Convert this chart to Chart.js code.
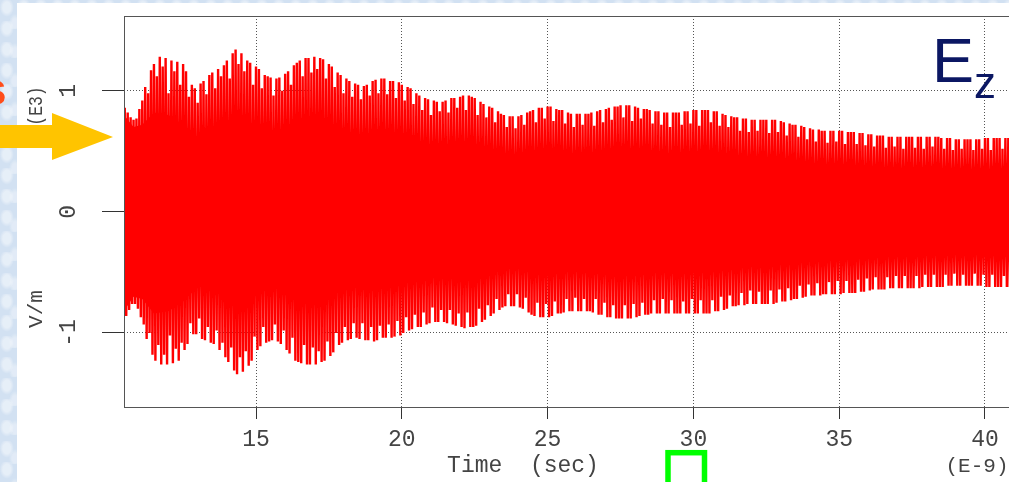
<!DOCTYPE html>
<html>
<head>
<meta charset="utf-8">
<script src="https://cdn.jsdelivr.net/npm/chart.js@4/dist/chart.umd.min.js"></script>
<style>
  html, body { margin: 0; padding: 0; }
  body {
    width: 1009px; height: 482px; overflow: hidden; position: relative;
    background-color: #d2e1f2;
    background-image:
      radial-gradient(ellipse at 40% 35%, rgba(255,255,255,0.45) 0 4px, transparent 7px),
      radial-gradient(ellipse at 65% 80%, rgba(255,255,255,0.35) 0 3px, transparent 6px);
    background-size: 17px 21px, 23px 29px;
  }
  #panel { position: absolute; left: 17px; top: 3px; right: 0; bottom: 0; background: #fff; }
  #wrap { position: absolute; left: 0; top: 0; width: 1040px; height: 482px; }
  #overlay { position: absolute; left: 0; top: 0; }
</style>
</head>
<body>
<div id="panel"></div>
<div id="wrap"><canvas id="chart_ez" width="1040" height="482"></canvas></div>
<svg id="overlay" width="1009" height="482">
  <text x="-19" y="105" font-family="Liberation Sans, Arial, sans-serif" font-weight="bold" font-size="46" fill="#ff4d1a">s</text>
  <polygon points="0,125 52,125 52,113 113,137 52,160 52,148 0,148" fill="#ffc400"/>
  <text x="932" y="82" font-family="Liberation Sans, Arial, sans-serif" font-size="63" fill="#0b1763">E</text>
  <text x="974" y="98" font-family="Liberation Sans, Arial, sans-serif" font-size="44" fill="#0b1763">z</text>
  <rect x="668" y="452.7" width="36.5" height="45" fill="none" stroke="#00ff00" stroke-width="5.5"/>
</svg>
<script>
// axes (time in E-9 s, field in E3 V/m)
const xTicks = [15, 20, 25, 30, 35, 40];
const yTicks = [-1, 0, 1];
const yTickLabels = ["-1", "0", "1"];

// positive peaks, one every 0.1 ns starting at 10.5
const upperStart = 10.5;
const upperPeak = [
  0.86, 0.82, 0.78, 0.76, 0.77, 0.85, 0.92, 1.03, 0.98, 1.17,
  1.22, 1.12, 1.28, 1.20, 1.27, 0.98, 1.25, 1.16, 1.24, 1.05,
  1.22, 1.16, 0.95, 1.05, 1.02, 0.90, 1.06, 1.08, 0.97, 1.13,
  1.15, 1.02, 1.18, 1.12, 1.21, 1.25, 1.10, 1.31, 1.34, 1.22,
  1.31, 1.16, 1.25, 1.23, 1.05, 1.20, 1.18, 1.02, 1.13, 1.12,
  1.11, 0.96, 1.10, 1.11, 1.00, 1.14, 1.16, 1.05, 1.21, 1.23,
  1.25, 1.12, 1.27, 1.27, 1.15, 1.28, 1.18, 1.27, 1.26, 1.10,
  1.22, 1.20, 1.03, 1.15, 1.13, 0.98, 1.10, 1.08, 0.95, 1.06,
  1.05, 0.93, 1.04, 1.05, 0.96, 1.08, 1.09, 0.98, 1.10, 1.10,
  0.97, 1.08, 1.08, 0.94, 1.07, 1.05, 0.92, 1.03, 1.02, 0.89,
  0.98, 0.96, 0.84, 0.94, 0.93, 0.80, 0.92, 0.91, 0.83, 0.91,
  0.92, 0.82, 0.94, 0.94, 0.86, 0.95, 0.96, 0.84, 0.96, 0.95,
  0.94, 0.80, 0.91, 0.89, 0.78, 0.87, 0.86, 0.74, 0.83, 0.81,
  0.80, 0.70, 0.79, 0.79, 0.69, 0.79, 0.80, 0.72, 0.82, 0.83,
  0.84, 0.74, 0.86, 0.86, 0.77, 0.87, 0.87, 0.75, 0.85, 0.84,
  0.84, 0.73, 0.82, 0.81, 0.70, 0.81, 0.81, 0.72, 0.81, 0.81,
  0.82, 0.71, 0.83, 0.84, 0.74, 0.85, 0.86, 0.76, 0.87, 0.87,
  0.88, 0.78, 0.88, 0.88, 0.75, 0.87, 0.86, 0.77, 0.85, 0.85,
  0.84, 0.73, 0.83, 0.83, 0.72, 0.82, 0.82, 0.70, 0.82, 0.82,
  0.82, 0.72, 0.83, 0.83, 0.73, 0.84, 0.84, 0.71, 0.84, 0.84,
  0.84, 0.74, 0.83, 0.83, 0.71, 0.81, 0.80, 0.70, 0.79, 0.78,
  0.78, 0.67, 0.77, 0.77, 0.66, 0.76, 0.76, 0.67, 0.76, 0.76,
  0.76, 0.65, 0.76, 0.76, 0.66, 0.75, 0.74, 0.63, 0.73, 0.72,
  0.72, 0.62, 0.71, 0.70, 0.60, 0.69, 0.68, 0.58, 0.68, 0.67,
  0.67, 0.57, 0.67, 0.67, 0.58, 0.67, 0.67, 0.56, 0.66, 0.66,
  0.66, 0.56, 0.65, 0.65, 0.55, 0.64, 0.64, 0.54, 0.63, 0.63,
  0.63, 0.53, 0.62, 0.62, 0.54, 0.62, 0.62, 0.52, 0.62, 0.62,
  0.62, 0.53, 0.62, 0.62, 0.52, 0.62, 0.62, 0.54, 0.62, 0.62,
  0.61, 0.52, 0.61, 0.61, 0.51, 0.60, 0.60, 0.52, 0.60, 0.60,
  0.60, 0.51, 0.60, 0.60, 0.52, 0.61, 0.61, 0.51, 0.61, 0.61,
  0.61, 0.52, 0.61, 0.61, 0.53
];

// negative peaks (magnitude), one every 0.1 ns starting at 10.55
const lowerStart = 10.55;
const lowerPeak = [
  0.86, 0.81, 0.76, 0.76, 0.80, 0.87, 0.93, 1.05, 1.00, 1.18,
  1.23, 1.10, 1.26, 1.18, 1.26, 1.02, 1.25, 1.13, 1.23, 1.08,
  1.14, 1.09, 0.92, 1.01, 1.01, 0.88, 1.05, 1.06, 0.95, 1.08,
  1.09, 0.98, 1.14, 1.08, 1.20, 1.24, 1.12, 1.31, 1.34, 1.20,
  1.32, 1.15, 1.27, 1.23, 1.03, 1.14, 1.11, 0.95, 1.08, 1.07,
  1.06, 0.93, 1.07, 1.09, 0.98, 1.14, 1.17, 1.04, 1.23, 1.24,
  1.25, 1.10, 1.26, 1.26, 1.12, 1.26, 1.15, 1.24, 1.23, 1.07,
  1.19, 1.16, 1.00, 1.10, 1.08, 0.95, 1.06, 1.05, 0.92, 1.04,
  1.05, 0.92, 1.06, 1.06, 0.95, 1.07, 1.06, 0.94, 1.04, 1.04,
  0.93, 1.04, 1.03, 0.90, 1.02, 1.00, 0.87, 0.98, 0.97, 0.85,
  0.95, 0.95, 0.83, 0.93, 0.92, 0.79, 0.91, 0.91, 0.81, 0.91,
  0.92, 0.81, 0.93, 0.94, 0.84, 0.95, 0.96, 0.83, 0.95, 0.95,
  0.94, 0.80, 0.91, 0.89, 0.77, 0.86, 0.84, 0.72, 0.81, 0.79,
  0.78, 0.68, 0.78, 0.78, 0.68, 0.79, 0.80, 0.71, 0.83, 0.85,
  0.86, 0.75, 0.87, 0.87, 0.76, 0.87, 0.86, 0.74, 0.84, 0.84,
  0.83, 0.72, 0.82, 0.82, 0.71, 0.82, 0.82, 0.72, 0.82, 0.82,
  0.83, 0.72, 0.85, 0.85, 0.75, 0.87, 0.87, 0.77, 0.88, 0.88,
  0.88, 0.77, 0.88, 0.88, 0.76, 0.87, 0.86, 0.75, 0.85, 0.85,
  0.84, 0.73, 0.84, 0.84, 0.72, 0.84, 0.84, 0.73, 0.84, 0.84,
  0.84, 0.74, 0.84, 0.84, 0.72, 0.84, 0.84, 0.73, 0.84, 0.84,
  0.84, 0.73, 0.82, 0.82, 0.70, 0.81, 0.80, 0.69, 0.78, 0.78,
  0.77, 0.67, 0.77, 0.76, 0.65, 0.76, 0.76, 0.66, 0.76, 0.76,
  0.76, 0.65, 0.76, 0.75, 0.64, 0.74, 0.74, 0.63, 0.73, 0.72,
  0.72, 0.61, 0.71, 0.70, 0.60, 0.69, 0.69, 0.59, 0.69, 0.68,
  0.68, 0.58, 0.68, 0.68, 0.57, 0.68, 0.67, 0.57, 0.67, 0.67,
  0.67, 0.56, 0.66, 0.66, 0.55, 0.65, 0.64, 0.54, 0.64, 0.64,
  0.64, 0.54, 0.63, 0.63, 0.53, 0.63, 0.63, 0.53, 0.63, 0.63,
  0.63, 0.53, 0.63, 0.62, 0.52, 0.62, 0.62, 0.52, 0.62, 0.62,
  0.62, 0.52, 0.61, 0.61, 0.51, 0.61, 0.61, 0.52, 0.61, 0.61,
  0.61, 0.51, 0.61, 0.61, 0.52, 0.62, 0.62, 0.52, 0.62, 0.62,
  0.62, 0.53, 0.62, 0.62, 0.52
];
const peakStep = 0.1;

// solid core of the band
const coreTime = [
  10.47, 10.8, 11.1, 11.5, 12, 12.5, 13, 13.5, 14, 14.5,
  15, 15.5, 16, 16.5, 17, 17.5, 18, 18.5, 19, 19.5,
  20, 21, 22, 23, 24, 25, 26, 27, 28, 29,
  30, 31, 32, 33, 34, 35, 36, 37, 38, 39,
  40, 41.4
];
const coreTop = [
  0.80, 0.70, 0.72, 0.82, 0.80, 0.72, 0.60, 0.62, 0.68, 0.72,
  0.66, 0.60, 0.62, 0.68, 0.72, 0.66, 0.58, 0.55, 0.58, 0.58,
  0.55, 0.46, 0.48, 0.42, 0.38, 0.42, 0.40, 0.42, 0.42, 0.40,
  0.40, 0.38, 0.36, 0.34, 0.31, 0.30, 0.29, 0.28, 0.28, 0.27,
  0.27, 0.27
];
const coreBottom = [
  -0.82, -0.70, -0.72, -0.84, -0.82, -0.74, -0.62, -0.62, -0.70, -0.76,
  -0.68, -0.60, -0.62, -0.70, -0.72, -0.68, -0.60, -0.55, -0.58, -0.58,
  -0.56, -0.47, -0.48, -0.42, -0.38, -0.42, -0.40, -0.42, -0.42, -0.41,
  -0.41, -0.39, -0.36, -0.34, -0.31, -0.30, -0.29, -0.28, -0.28, -0.27,
  -0.27, -0.27
];

const trace = [];
for (let k = 0; k < upperPeak.length; k++) {
  trace.push({ x: upperStart + k * peakStep, y: upperPeak[k] });
  if (k < lowerPeak.length) trace.push({ x: lowerStart + k * peakStep, y: -lowerPeak[k] });
}
const coreTopPts = coreTime.map((t, i) => ({ x: t, y: coreTop[i] }));
const coreBottomPts = coreTime.map((t, i) => ({ x: t, y: coreBottom[i] }));

const MONO = '"Liberation Mono", "DejaVu Sans Mono", monospace';
const TEXT = '#444';

function rotText(ctx, txt, x, y, sx) {
  ctx.save();
  ctx.translate(x, y);
  ctx.rotate(-Math.PI / 2);
  if (sx) ctx.scale(sx, 1);
  ctx.fillText(txt, 0, 0);
  ctx.restore();
}

// R-like box, rotated y labels and axis titles
const rFrame = {
  id: 'rFrame',
  afterDatasetsDraw(chart) {
    const { ctx, chartArea: a } = chart;
    ctx.save();
    ctx.strokeStyle = '#555';
    ctx.lineWidth = 1;
    ctx.strokeRect(a.left + 0.5, a.top + 0.5, a.right - a.left, a.bottom - a.top);
    ctx.restore();
  },
  afterDraw(chart) {
    const ctx = chart.ctx;
    const ys = chart.scales.y;
    ctx.save();
    ctx.fillStyle = TEXT;
    ctx.font = '23px ' + MONO;
    ctx.textAlign = 'center';
    ctx.textBaseline = 'middle';
    yTicks.forEach((v, i) => rotText(ctx, yTickLabels[i], 69, ys.getPixelForValue(v)));
    ctx.font = '21px ' + MONO;
    rotText(ctx, 'V/m', 36, 309);
    rotText(ctx, '(E3)', 36, 106, 0.78);
    ctx.font = '23px ' + MONO;
    ctx.fillText('Time  (sec)', 523, 466);
    ctx.font = '21px ' + MONO;
    ctx.fillText('(E-9)', 977, 466);
    ctx.restore();
  }
};

new Chart(document.getElementById('chart_ez'), {
  type: 'line',
  data: {
    datasets: [
      {
        label: 'Ez',
        data: trace,
        borderColor: '#ff0000',
        borderWidth: 2.4,
        pointRadius: 0,
        tension: 0,
        fill: false
      },
      {
        label: 'core top',
        data: coreTopPts,
        borderWidth: 0,
        pointRadius: 0,
        backgroundColor: '#ff0000',
        fill: '+1'
      },
      {
        label: 'core bottom',
        data: coreBottomPts,
        borderWidth: 0,
        pointRadius: 0,
        fill: false
      }
    ]
  },
  options: {
    responsive: false,
    animation: false,
    layout: { padding: { left: 0, top: 16, right: 15, bottom: 0 } },
    plugins: {
      legend: { display: false },
      tooltip: { enabled: false }
    },
    scales: {
      x: {
        type: 'linear',
        min: 10.473,
        max: 41.372,
        afterBuildTicks: s => { s.ticks = xTicks.map(v => ({ value: v })); },
        afterFit: s => { s.height = 75; },
        grid: { color: '#555', tickColor: '#333', tickLength: 12, tickBorderDash: [] },
        border: { display: false, dash: [1, 2] },
        ticks: { color: TEXT, padding: 7, font: { family: MONO, size: 23 }, maxRotation: 0 }
      },
      y: {
        type: 'linear',
        min: -1.611,
        max: 1.617,
        afterBuildTicks: s => { s.ticks = yTicks.map(v => ({ value: v })); },
        afterFit: s => { s.width = 124; },
        grid: { color: '#555', tickColor: '#333', tickLength: 22, tickBorderDash: [] },
        border: { display: false, dash: [1, 2] },
        ticks: { display: false }
      }
    }
  },
  plugins: [rFrame]
});
</script>
</body>
</html>
